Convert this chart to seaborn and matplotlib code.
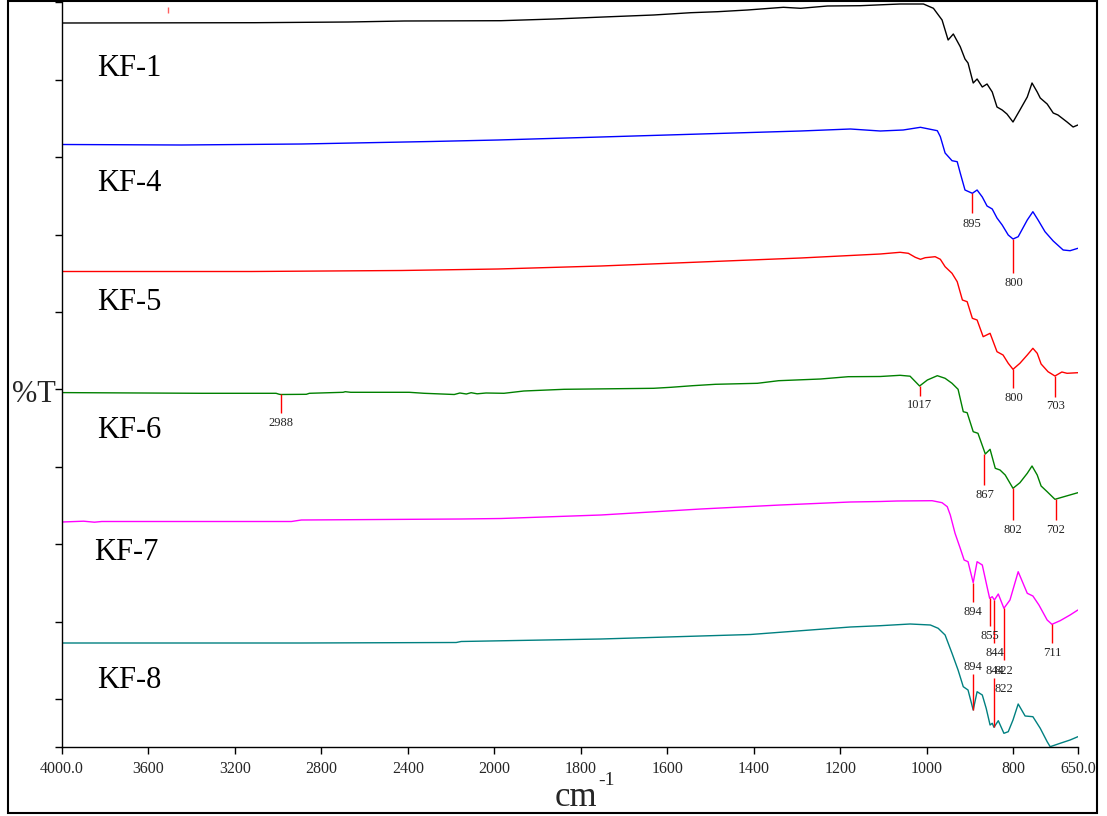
import numpy as np
import pandas as pd
import matplotlib
matplotlib.use("Agg")
import matplotlib.pyplot as plt
import seaborn as sns
from matplotlib.patches import Rectangle

sns.set_style("ticks")
plt.rcParams["font.family"] = ["Liberation Serif", "DejaVu Serif"]

# ---------------- data (wavenumber in cm-1, transmittance in a.u., stacked) ----------------
samples = ["KF-1", "KF-4", "KF-5", "KF-6", "KF-7", "KF-8"]
colors = ["#000000", "#0000ff", "#ff0000", "#008000", "#ff00ff", "#008080"]

kf1_wn = [4000, 3110, 2676, 2417, 1985, 1862, 1731, 1632, 1546, 1484, 1415, 1332, 1292, 1230, 1154, 1101,
          1062, 1008, 985, 965, 951, 939, 923, 912, 905, 893, 884, 872, 861, 849, 838, 826,
          815, 801, 785, 768, 757, 745, 738, 722, 708, 697, 676, 662, 651]
kf1_t = [724, 724.3, 725, 726, 726.3, 728, 730.3, 732, 734.3, 735.3, 737, 739.7, 738.7, 741, 741.3, 742.3,
         743, 743, 738.7, 727, 707, 713, 700.3, 688, 684, 664, 668, 660, 663, 655, 640, 637,
         633, 625, 637, 650, 664, 655, 649, 643, 634, 632, 625, 620, 622]

kf4_wn = [4000, 3447, 2893, 2293, 1992, 1754, 1523, 1292, 1177, 1108, 1055, 1015, 992, 976, 969, 958,
          942, 930, 923, 912, 895, 884, 872, 861, 849, 838, 826, 812, 801, 789, 768, 755,
          743, 727, 708, 685, 669, 651]
kf4_t = [602.5, 602, 603, 605.5, 607, 610, 613, 616, 618, 616, 617, 619.7, 617.7, 616.3, 610.3, 594,
         586.3, 585.3, 574, 557, 553.7, 557, 550, 541, 538, 529, 522, 512, 508, 510.3, 527, 535.3,
         527, 515.3, 506, 497, 496.3, 498.7]

kf5_wn = [4000, 3123, 2431, 1992, 1754, 1523, 1292, 1108, 1062, 1043, 1027, 1015, 1004, 981, 969, 958,
          942, 930, 918, 907, 895, 884, 870, 854, 838, 824, 812, 801, 785, 768, 755, 745,
          736, 720, 704, 688, 676, 651]
kf5_t = [475.5, 475.5, 476.5, 478, 481, 485, 489, 493, 494.7, 493.7, 489.7, 487.7, 489.3, 490.3, 487.7, 480.3,
         473.7, 465.3, 447, 445.3, 428.7, 427, 410.3, 413.7, 395.3, 392, 383.7, 377.7, 383.7, 392, 398.7, 393.7,
         383, 375.3, 371, 375, 373.7, 374.3]

kf6_wn = [4000, 3354, 3010, 2995, 2988, 2870, 2856, 2700, 2690, 2665, 2394, 2325, 2186, 2160, 2130, 2108,
          2080, 2039, 1978, 1932, 1839, 1632, 1592, 1542, 1489, 1392, 1343, 1246, 1182, 1108, 1062, 1039,
          1017, 999, 976, 958, 942, 928, 916, 907, 893, 882, 865, 854, 842, 831, 819, 801,
          785, 768, 757, 745, 736, 722, 704, 688, 651]
kf6_t = [354.4, 353.7, 353.7, 352.7, 352.5, 352.7, 353.7, 354.7, 355.3, 354.7, 354.7, 353.7, 352.5, 354, 353, 354.3,
         353.2, 354, 353.7, 356, 357.7, 358.7, 359.7, 361.3, 362.7, 363.7, 366.3, 368, 370.3, 370.5, 371.7, 370.8,
         361, 367, 371.3, 368.7, 363.7, 357.7, 335.3, 334.3, 315.3, 313.7, 293, 297.7, 278.7, 277, 272, 258.7,
         264.3, 273.7, 281, 272, 261, 255.3, 247.7, 249.7, 254.3]

kf7_wn = [4000, 3900, 3850, 3816, 2939, 2893, 2154, 1985, 1754, 1523, 1339, 1177, 1108, 1069, 988, 965,
          953, 946, 935, 923, 914, 905, 893, 884, 872, 861, 855, 849, 844, 835, 822, 808,
          789, 768, 755, 741, 722, 711, 692, 669, 651]
kf7_t = [225, 225.8, 224.8, 225.5, 225.5, 227, 228, 228.5, 232, 238, 242, 245, 245.5, 246, 246.3, 244.3,
         240.3, 232, 213.7, 198.7, 187, 185.3, 164.3, 185.3, 182, 160.3, 148.7, 150.3, 147, 153, 138.7, 147,
         175.3, 153.7, 151, 142, 127, 122.7, 126.3, 132, 137]

kf8_wn = [4000, 2893, 2177, 2154, 1754, 1408, 1177, 1108, 1039, 992, 974, 958, 942, 928, 916, 905,
          893, 884, 872, 863, 854, 849, 845, 835, 822, 812, 801, 789, 773, 755, 738, 722,
          715, 692, 669, 651]
kf8_t = [104, 104, 104.5, 105.5, 108, 112.5, 120, 121.3, 123, 122, 118.7, 112, 93.7, 77, 60.3, 57,
         37, 55.3, 52, 38.7, 22, 23.7, 19.7, 26.3, 13.7, 15.3, 27, 43, 31, 30.3, 18.7, 5.3,
         0.3, 3.7, 7, 10.3]

# peak annotations
peak_wn = [895, 800, 800, 703, 2988, 1017, 867, 802, 702, 894, 855, 844, 822, 711, 894, 844, 822]
peak_line_from = [553.7, 508, 377.7, 371, 352.7, 361, 293, 258.7, 247.7, 164.3, 148.7, 147, 138.7, 122.7, 37, 19.7, np.nan]
peak_line_to = [533.7, 474, 358.7, 350.3, 333.7, 351, 262, 227, 227, 145.3, 121, 103.7, 87, 103.7, 73, 68.7, np.nan]
peak_label_y = [523, 464.3, 349, 341.3, 323.7, 342, 252, 217, 217, 135.3, 111.3, 93.7, 76.3, 93.7, 79.7, 76.3, 58]

# sample label positions
label_wn = [3839, 3839, 3839, 3839, 3853, 3839]
label_y = [679, 564, 444, 317, 194, 67]

x_ticks = [4000, 3600, 3200, 2800, 2400, 2000, 1800, 1600, 1400, 1200, 1000, 800, 650]
x_ticklabels = ["4000.0", "3600", "3200", "2800", "2400", "2000", "1800", "1600", "1400", "1200", "1000", "800", "650.0"]

# ---------------- build long-form frame ----------------
wns = [kf1_wn, kf4_wn, kf5_wn, kf6_wn, kf7_wn, kf8_wn]
ts = [kf1_t, kf4_t, kf5_t, kf6_t, kf7_t, kf8_t]
df = pd.concat([pd.DataFrame({"sample": s, "wavenumber": w, "T": t}) for s, w, t in zip(samples, wns, ts)],
               ignore_index=True)

fig = plt.figure(figsize=(11.07, 8.16), dpi=100)
ax = fig.add_axes([62 / 1107, 69 / 816, (1078.3 - 62) / 1107, 744.6 / 816])

sns.lineplot(data=df, x="wavenumber", y="T", hue="sample", palette=dict(zip(samples, colors)),
             estimator=None, sort=False, legend=False, linewidth=1.0, ax=ax)


# scale break at 2000 cm-1 (region above 2000 compressed 2x)
def fwd(w):
    w = np.asarray(w, dtype=float)
    return np.where(w > 2000, 2000 + (w - 2000) / 2.0, w)


def inv(u):
    u = np.asarray(u, dtype=float)
    return np.where(u > 2000, 2000 + 2.0 * (u - 2000), u)


ax.set_xscale("function", functions=(fwd, inv))
ax.set_xlim(4000, 650)
ax.set_ylim(0, 744.6)

ax.set_xticks(x_ticks)
ax.set_xticklabels(x_ticklabels, fontsize=11.5)
ax.xaxis.set_minor_locator(matplotlib.ticker.NullLocator())
ytick_pos = [0] + [48 + 77.4 * k for k in range(10)]
ax.set_yticks(ytick_pos)
ax.set_yticklabels([])
ax.tick_params(direction="out", length=5, width=1, color="black", pad=5)
for side in ["top", "right"]:
    ax.spines[side].set_visible(False)
for side in ["left", "bottom"]:
    ax.spines[side].set_color("black")
    ax.spines[side].set_linewidth(1)
ax.set_xlabel("")
ax.set_ylabel("")

# peak markers
for w, y0, y1, ly in zip(peak_wn, peak_line_from, peak_line_to, peak_label_y):
    if not np.isnan(y0):
        ax.vlines(w, y0, y1, color="red", linewidth=1)
    ax.text(w, ly, str(w), fontsize=9, ha="center", va="center", color="#222222")

# small red mark near top
ax.vlines(3511, 734, 740, color="#ff6060", linewidth=1)

# sample labels
for s, lw_, ly in zip(samples, label_wn, label_y):
    ax.text(lw_, ly, s, fontsize=22, ha="left", va="center", color="black")

ax.text(-0.028, 0.473, "%T", transform=ax.transAxes, fontsize=22, ha="center", va="center")
# axis unit: cm with superscript -1
ax.text(0.5264, -0.0792, "cm", transform=ax.transAxes, fontsize=25, ha="right", va="baseline")
ax.text(0.5274, -0.051, "-1", transform=ax.transAxes, fontsize=14, ha="left", va="baseline")

fig.add_artist(Rectangle((8 / 1107, 3 / 816), (1097 - 8) / 1107, (815 - 3) / 816, fill=False,
                         linewidth=1.5, edgecolor="black", transform=fig.transFigure))

fig.savefig("out.png", dpi=100)
